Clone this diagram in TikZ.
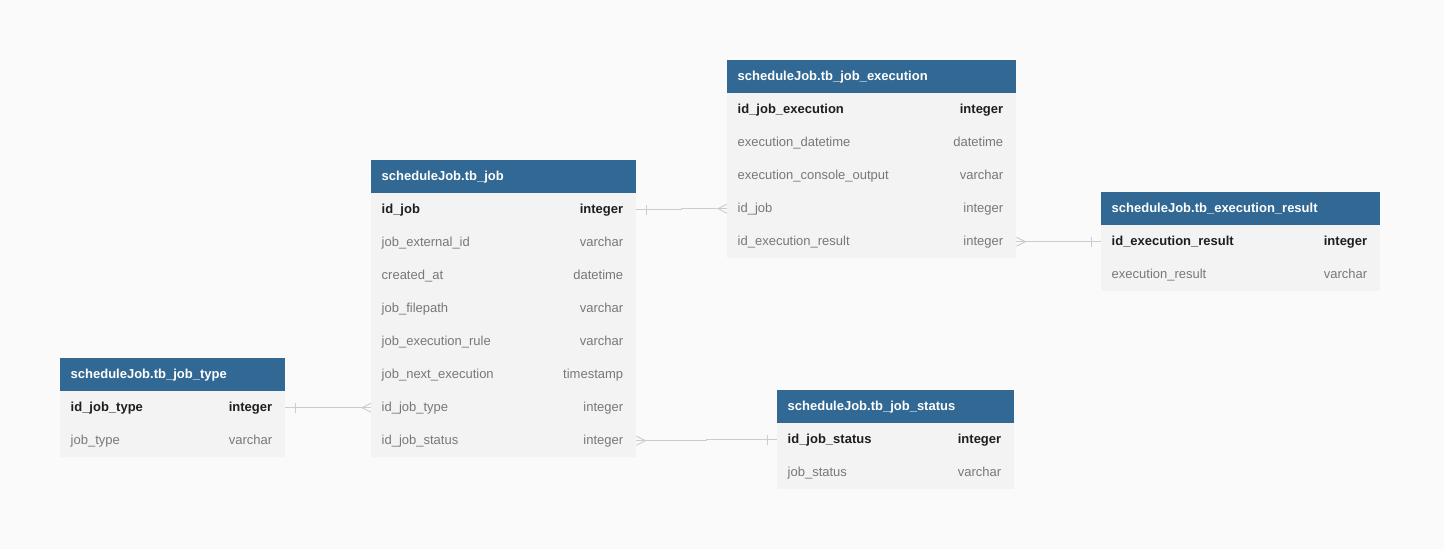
\documentclass[tikz,border=0pt]{standalone}
\usepackage{fontspec}
\setmainfont{Liberation Sans}
\usetikzlibrary{calc}
\definecolor{bg}{HTML}{FAFAFA}
\definecolor{hdrblue}{HTML}{316894}
\definecolor{rowgray}{HTML}{F3F3F3}
\definecolor{keytxt}{HTML}{1E1E1E}
\definecolor{fldtxt}{HTML}{787878}
\definecolor{linkgray}{HTML}{CCCCCC}
\tikzset{
  hdr/.style={fill=hdrblue, draw=none, minimum height=33, inner sep=0pt, anchor=north west},
  rowbox/.style={fill=rowgray, draw=none, minimum height=33, inner sep=0pt, anchor=north west},
  hdrtxt/.style={inner sep=0pt, text=white, font=\fontsize{13}{15}\selectfont\bfseries},
  keyf/.style={inner sep=0pt, text=keytxt, font=\fontsize{13}{15}\selectfont\bfseries},
  plainf/.style={inner sep=0pt, text=fldtxt, font=\fontsize{13}{15}\selectfont},
  link/.style={draw=linkgray, line width=0.9pt},
}
% table header: name, x, y, width, title
\newcommand\erhead[5]{%
  \node[hdr, minimum width=#4] (#1) at (#2,#3) {};
  \node[hdrtxt, anchor=mid west] (#1-t) at ($(#1.west)+(10.5,1.5)$) {#5};}
% table row: name, x, y, width, field, type, style
\newcommand\errow[7]{%
  \node[rowbox, minimum width=#4] (#1) at (#2,#3) {};
  \node[#7, anchor=mid west] (#1-f) at ($(#1.west)+(10.5,1.5)$) {#5};
  \node[#7, anchor=mid east] (#1-y) at ($(#1.east)+(-13,1.5)$) {#6};}
\begin{document}
\begin{tikzpicture}[x=1pt,y=-1pt]
\fill[bg] (0,0) rectangle (1444,549);
\useasboundingbox (0,0) rectangle (1444,549);

% tb_job_execution
\erhead{ex}{727}{60}{289}{scheduleJob.tb\_job\_execution}
\errow{ex0}{727}{93}{289}{id\_job\_execution}{integer}{keyf}
\errow{ex1}{727}{126}{289}{execution\_datetime}{datetime}{plainf}
\errow{ex2}{727}{159}{289}{execution\_console\_output}{varchar}{plainf}
\errow{ex3}{727}{192}{289}{id\_job}{integer}{plainf}
\errow{ex4}{727}{225}{289}{id\_execution\_result}{integer}{plainf}

% tb_job
\erhead{jb}{371}{160}{265}{scheduleJob.tb\_job}
\errow{jb0}{371}{193}{265}{id\_job}{integer}{keyf}
\errow{jb1}{371}{226}{265}{job\_external\_id}{varchar}{plainf}
\errow{jb2}{371}{259}{265}{created\_at}{datetime}{plainf}
\errow{jb3}{371}{292}{265}{job\_filepath}{varchar}{plainf}
\errow{jb4}{371}{325}{265}{job\_execution\_rule}{varchar}{plainf}
\errow{jb5}{371}{358}{265}{job\_next\_execution}{timestamp}{plainf}
\errow{jb6}{371}{391}{265}{id\_job\_type}{integer}{plainf}
\errow{jb7}{371}{424}{265}{id\_job\_status}{integer}{plainf}

% tb_execution_result
\erhead{rs}{1101}{192}{279}{scheduleJob.tb\_execution\_result}
\errow{rs0}{1101}{225}{279}{id\_execution\_result}{integer}{keyf}
\errow{rs1}{1101}{258}{279}{execution\_result}{varchar}{plainf}

% tb_job_type
\erhead{jt}{60}{358}{225}{scheduleJob.tb\_job\_type}
\errow{jt0}{60}{391}{225}{id\_job\_type}{integer}{keyf}
\errow{jt1}{60}{424}{225}{job\_type}{varchar}{plainf}

% tb_job_status
\erhead{st}{777}{390}{237}{scheduleJob.tb\_job\_status}
\errow{st0}{777}{423}{237}{id\_job\_status}{integer}{keyf}
\errow{st1}{777}{456}{237}{job\_status}{varchar}{plainf}

% connectors
% tb_job.id_job (one) -> tb_job_execution.id_job (many)
\coordinate (m1) at ($(jb0.east)!0.5!(ex3.west)$);
\draw[link] (jb0.east) -- (jb0.east -| m1) -- (ex3.west -| m1) -- (ex3.west);
\draw[link] ($(jb0.east)+(10,-5)$) -- ($(jb0.east)+(10,5)$);
\draw[link] ($(ex3.west)+(-9,0)$) -- ($(ex3.west)+(0,-4.5)$);
\draw[link] ($(ex3.west)+(-9,0)$) -- ($(ex3.west)+(0,4.5)$);

% tb_job_execution.id_execution_result (many) -> tb_execution_result (one)
\draw[link] (ex4.east) -- (rs0.west);
\draw[link] ($(ex4.east)+(9,0)$) -- ($(ex4.east)+(0,-4.5)$);
\draw[link] ($(ex4.east)+(9,0)$) -- ($(ex4.east)+(0,4.5)$);
\draw[link] ($(rs0.west)+(-10,-5)$) -- ($(rs0.west)+(-10,5)$);

% tb_job_type (one) -> tb_job.id_job_type (many)
\draw[link] (jt0.east) -- (jb6.west);
\draw[link] ($(jt0.east)+(10,-5)$) -- ($(jt0.east)+(10,5)$);
\draw[link] ($(jb6.west)+(-9,0)$) -- ($(jb6.west)+(0,-4.5)$);
\draw[link] ($(jb6.west)+(-9,0)$) -- ($(jb6.west)+(0,4.5)$);

% tb_job.id_job_status (many) -> tb_job_status (one)
\coordinate (m4) at ($(jb7.east)!0.5!(st0.west)$);
\draw[link] (jb7.east) -- (jb7.east -| m4) -- (st0.west -| m4) -- (st0.west);
\draw[link] ($(jb7.east)+(9,0)$) -- ($(jb7.east)+(0,-4.5)$);
\draw[link] ($(jb7.east)+(9,0)$) -- ($(jb7.east)+(0,4.5)$);
\draw[link] ($(st0.west)+(-10,-5)$) -- ($(st0.west)+(-10,5)$);
\end{tikzpicture}
\end{document}
